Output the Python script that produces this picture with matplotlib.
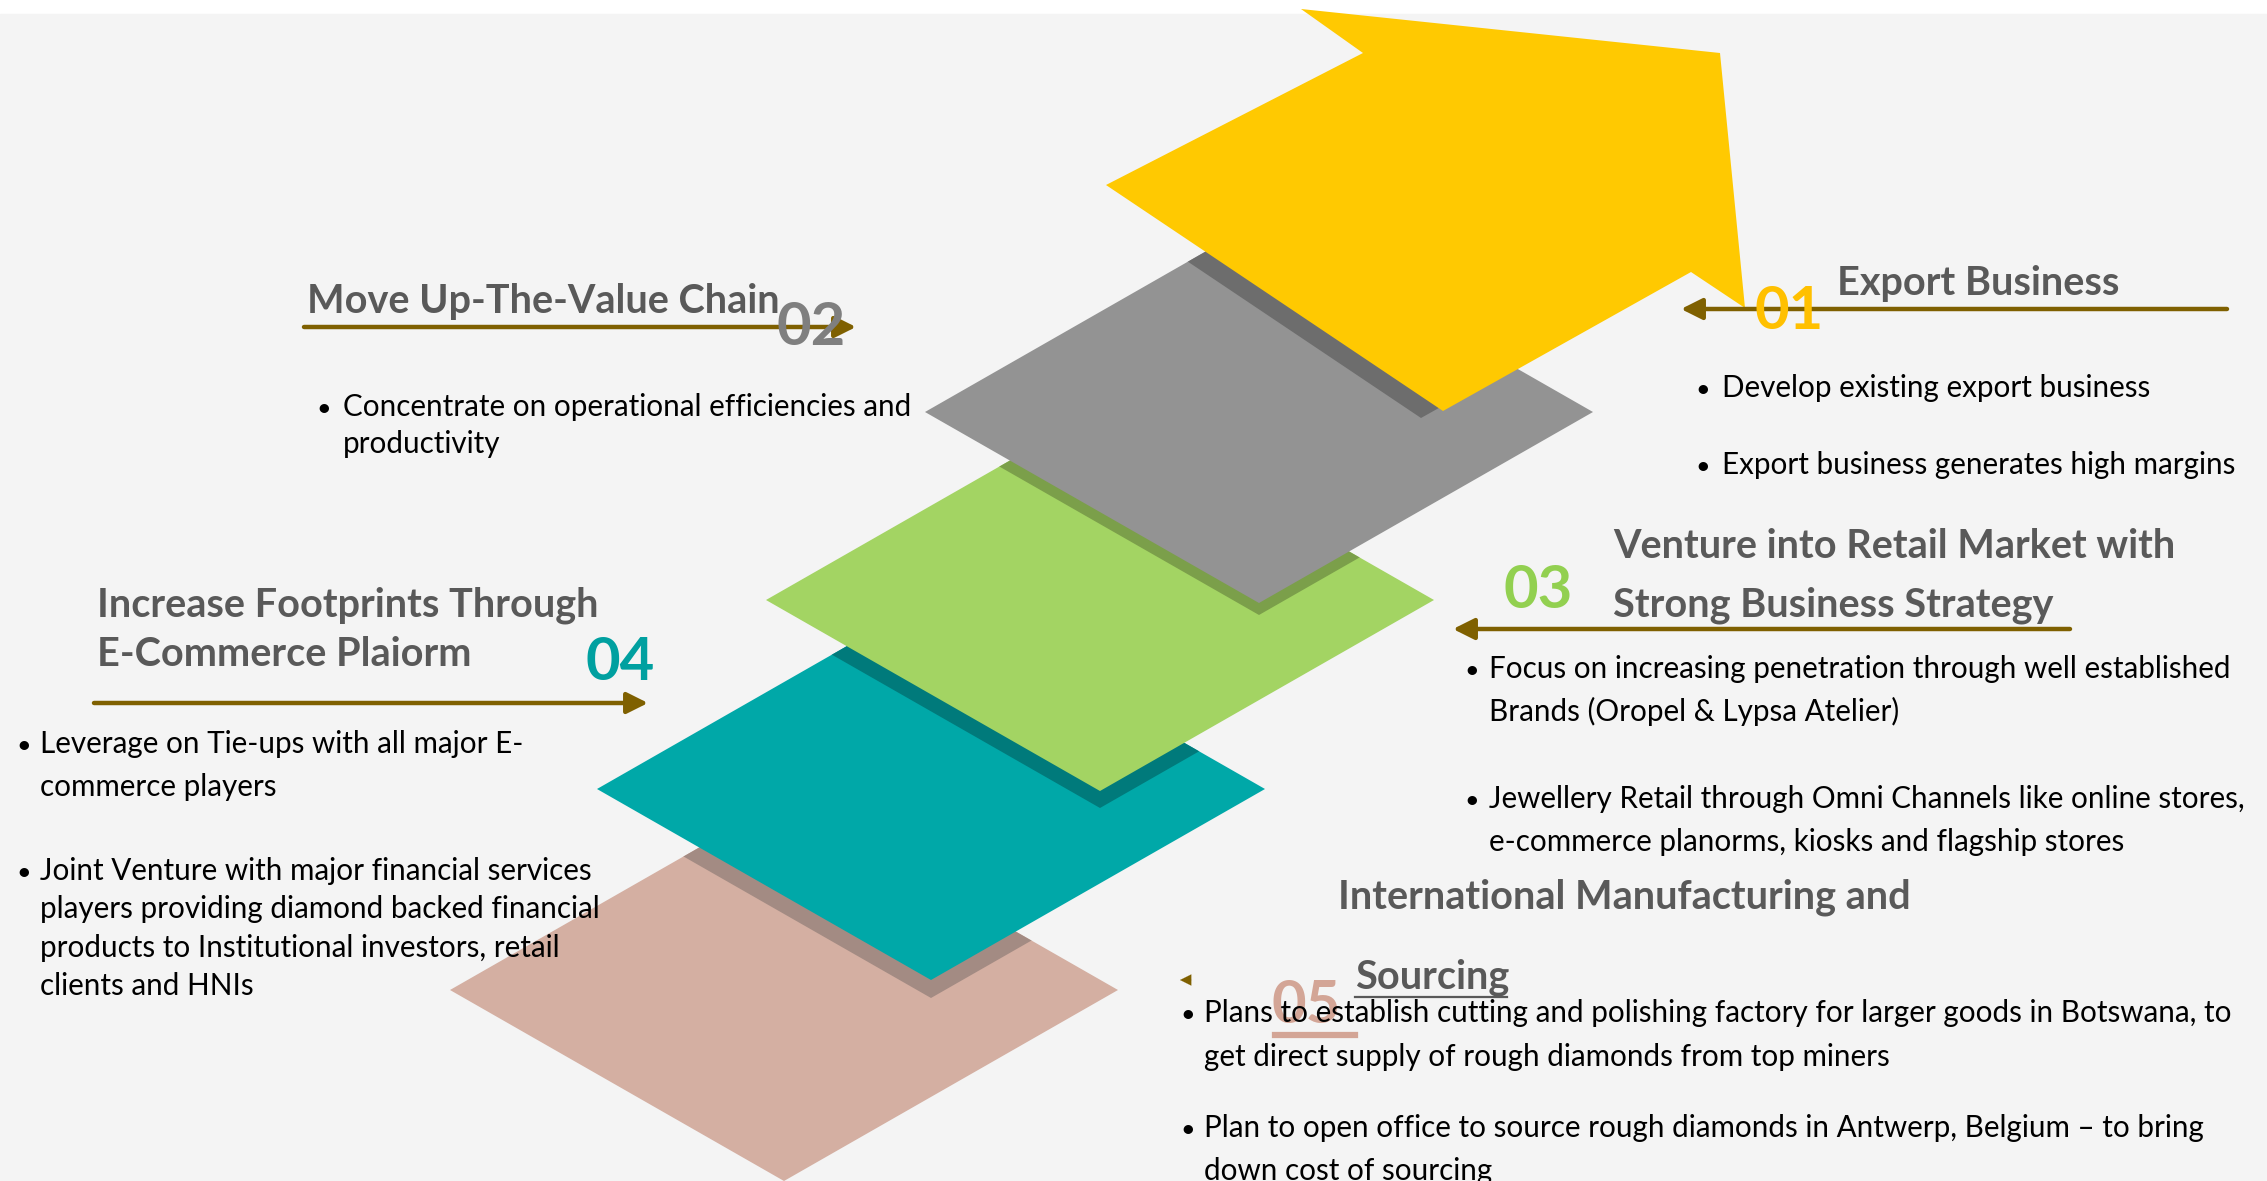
import matplotlib
matplotlib.use("Agg")
import matplotlib.pyplot as plt
from matplotlib.patches import Polygon, Rectangle, FancyArrowPatch

W, H = 2267, 1181

# ---- content -------------------------------------------------------------
step_numbers = ["01", "02", "03", "04", "05"]
step_titles = [
    ["Export Business"],
    ["Move Up-The-Value Chain"],
    ["Venture into Retail Market with", "Strong Business Strategy"],
    ["Increase Footprints Through", "E-Commerce Plaiorm"],
    ["International Manufacturing and", "Sourcing"],
]
step_bullets = [
    [["Develop existing export business"],
     ["Export business generates high margins"]],
    [["Concentrate on operational efficiencies and", "productivity"]],
    [["Focus on increasing penetration through well established",
      "Brands (Oropel & Lypsa Atelier)"],
     ["Jewellery Retail through Omni Channels like online stores,",
      "e-commerce planorms, kiosks and flagship stores"]],
    [["Leverage on Tie-ups with all major E-", "commerce players"],
     ["Joint Venture with major financial services",
      "players providing diamond backed financial",
      "products to Institutional investors, retail",
      "clients and HNIs"]],
    [["Plans to establish cutting and polishing factory for larger goods in Botswana, to",
      "get direct supply of rough diamonds from top miners"],
     ["Plan to open office to source rough diamonds in Antwerp, Belgium \u2013 to bring",
      "down cost of sourcing"]],
]
shape_colors = ["#ffc901", "#939393", "#a3d463", "#00a8a8", "#d4afa2"]
shadow_colors = [None, "#6d6d6d", "#7b9f4a", "#007a7b", "#a38b83"]
number_colors = ["#ffc000", "#7f7f7f", "#92d050", "#00a0a0", "#d3a596"]

# ---- layout (pixel coords, y down) --------------------------------------
arrow_pts = [(1301, 9), (1720, 53), (1745, 308), (1691, 272),
             (1443, 411), (1106, 185), (1363, 53)]
diamond_centers = [(1259, 412), (1100, 600), (931, 789), (784, 990)]
half_w, half_h = 334, 191
shadow_offsets = [(-22, 7), (0, 12), (0, 17), (0, 18)]

# one (x, baseline) per title line
title_pos = [[(1837, 295)],
             [(307, 313)],
             [(1613, 558), (1613, 617)],
             [(97, 617), (97, 666)],
             [(1338, 909), (1355, 989)]]
number_pos = [(1789, 312), (811, 328), (1538, 591), (620, 663), (1306, 1006)]
bullet_x = [(1692, 1722), (313, 343), (1461, 1489), (13, 40), (1177, 1204)]
bullet_y = [[[397], [474]],
            [[416, 453]],
            [[678, 721], [808, 851]],
            [[753, 796], [880, 918, 957, 995]],
            [[1022, 1066], [1137, 1180]]]
# (x_start, x_end, y) of each connector arrow; head at x_end
connectors = [(2227, 1681, 309), (304, 856, 327), (2070, 1453, 629),
              (94, 648, 703), (1192, 1180, 980)]

LINE = "#7f6000"
TITLE = "#595959"
FONT = "Lato"
TITLE_SIZE = 28.5
BODY_SIZE = 21.3
NUM_SIZE = 43

fig = plt.figure(figsize=(W / 100, H / 100), dpi=100)
ax = fig.add_axes([0, 0, 1, 1])
ax.set_xlim(0, W)
ax.set_ylim(H, 0)
ax.axis("off")
fig.patch.set_facecolor("white")
ax.add_patch(Rectangle((0, 14), W, H, color="#f4f4f4", zorder=0))


def diamond(cx, cy):
    return [(cx - half_w, cy), (cx, cy - half_h), (cx + half_w, cy), (cx, cy + half_h)]


shapes = [arrow_pts] + [diamond(cx, cy) for cx, cy in diamond_centers]

# draw bottom-up so the upper steps sit on top of the lower ones
for i in range(len(shapes) - 1, -1, -1):
    z = 10 - 2 * i
    base = Polygon(shapes[i], closed=True, facecolor=shape_colors[i],
                   edgecolor="none", zorder=z)
    ax.add_patch(base)
    if i > 0:
        dx, dy = shadow_offsets[i - 1]
        moved = [(x + dx, y + dy) for x, y in shapes[i - 1]]
        shade = Polygon(moved, closed=True, facecolor=shadow_colors[i],
                        edgecolor="none", zorder=z + 0.5)
        ax.add_patch(shade)
        shade.set_clip_path(base)

for k, (x0, x1, y) in enumerate(connectors):
    scale = 1.0 if k == 4 else 1.6
    ax.add_patch(FancyArrowPatch((x0, y), (x1, y),
                                 arrowstyle="-|>,head_length=8,head_width=4",
                                 mutation_scale=scale, color=LINE,
                                 lw=3.2 if k < 4 else 0.1,
                                 shrinkA=0, shrinkB=0, zorder=20))

for i, lines in enumerate(step_titles):
    for line, (x, y) in zip(lines, title_pos[i]):
        ax.text(x, y, line, fontsize=TITLE_SIZE, fontweight="bold", color=TITLE,
                family=FONT, ha="left", va="baseline", zorder=21)

# "Sourcing" is underlined
ax.plot([1355, 1507], [997, 997], color=TITLE, lw=1.6, zorder=21)

for i, num in enumerate(step_numbers):
    x, y = number_pos[i]
    ax.text(x, y, num, fontsize=NUM_SIZE, fontweight="bold", color=number_colors[i],
            family=FONT, ha="center", va="center", zorder=22)
ax.plot([1275, 1355], [1035, 1035], color=number_colors[4], lw=4.5, zorder=22)

for i, blocks in enumerate(step_bullets):
    bx, tx = bullet_x[i]
    for lines, ys in zip(blocks, bullet_y[i]):
        ax.text(bx + 3, ys[0], "\u2022", fontsize=BODY_SIZE * 0.85, color="black",
                family=FONT, ha="left", va="baseline", zorder=23)
        for line, y in zip(lines, ys):
            ax.text(tx, y, line, fontsize=BODY_SIZE, color="black", family=FONT,
                    ha="left", va="baseline", zorder=23)

fig.savefig("out.png", dpi=100, facecolor=fig.get_facecolor())
